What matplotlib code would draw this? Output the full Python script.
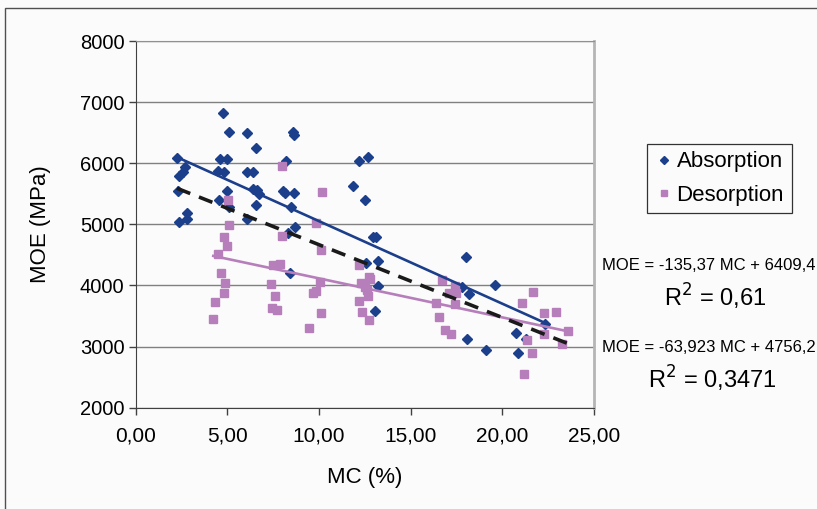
import matplotlib
matplotlib.use("Agg")
import matplotlib.pyplot as plt
from matplotlib.patches import Rectangle
import numpy as np

plt.rcParams["font.family"] = ["Liberation Sans", "DejaVu Sans"]

# Absorption points (MC %, MOE MPa)
abs_mc = [4.77, 5.08, 6.09, 6.57, 2.25, 4.60, 5.00, 8.20, 2.71, 2.60,
          2.39, 4.51, 4.82, 6.09, 6.39, 2.32, 5.00, 6.39, 6.64, 6.75,
          8.02, 8.16, 8.64, 8.57, 8.64, 12.16, 12.65, 11.87, 12.51, 4.57,
          5.11, 6.57, 6.06, 2.79, 2.39, 2.82, 8.49, 8.69, 8.33, 12.93,
          13.14, 8.42, 12.56, 13.20, 13.20, 13.04, 18.01, 17.79, 18.19, 19.61,
          18.08, 19.10, 20.77, 20.84, 21.28, 22.32]
abs_moe = [6830, 6515, 6495, 6250, 6085, 6070, 6070, 6035, 5940, 5865,
           5795, 5870, 5860, 5865, 5865, 5550, 5550, 5580, 5565, 5500,
           5550, 5510, 5520, 6520, 6465, 6045, 6110, 5635, 5400, 5400,
           5280, 5325, 5085, 5185, 5045, 5095, 5280, 4955, 4865, 4790,
           4790, 4200, 4365, 4400, 3990, 3580, 4470, 3980, 3860, 4005,
           3130, 2945, 3215, 2890, 3130, 3365]

# Desorption points
des_mc = [7.97, 5.04, 5.11, 4.82, 4.97, 4.50, 4.64, 4.89, 4.82, 4.35,
          4.24, 7.97, 7.48, 7.87, 7.40, 7.59, 7.44, 7.73, 10.16, 9.84,
          10.09, 10.05, 9.84, 9.66, 10.09, 9.44, 12.16, 12.71, 12.78, 12.31,
          12.52, 12.63, 12.67, 12.20, 12.34, 12.71, 16.41, 16.56, 16.70, 17.40,
          17.50, 17.07, 17.40, 16.85, 17.18, 21.68, 21.06, 22.30, 22.92, 23.57,
          21.35, 22.30, 23.24, 21.61, 21.21]
des_moe = [5960, 5400, 4985, 4800, 4655, 4515, 4210, 4035, 3870, 3730,
           3445, 4810, 4335, 4350, 4020, 3830, 3635, 3600, 5540, 5030,
           4580, 4060, 3915, 3880, 3545, 3300, 4340, 4145, 4100, 4045,
           3970, 3925, 3830, 3750, 3565, 3430, 3710, 3490, 4090, 3990,
           3870, 3880, 3695, 3270, 3205, 3900, 3710, 3545, 3565, 3260,
           3105, 3205, 3040, 2900, 2550]

# trend lines as given on the chart
abs_slope, abs_icpt = -135.37, 6409.4
des_slope, des_icpt = -63.923, 4756.2

x_ticks = [0, 5, 10, 15, 20, 25]
y_ticks = [2000, 3000, 4000, 5000, 6000, 7000, 8000]

blue = "#1c3f8c"
pink = "#b67fbb"

fig = plt.figure(figsize=(8.17, 5.09), dpi=100, facecolor="#fbfbfb")
ax = fig.add_axes([0.1659, 0.1994, 0.727 - 0.1659, 0.9185 - 0.1994])
ax.set_facecolor("#fbfbfb")

ax.plot(abs_mc, abs_moe, "D", color=blue, ms=4.8, ls="none", label="Absorption", zorder=3)
ax.plot(des_mc, des_moe, "s", color=pink, ms=6, ls="none", label="Desorption", zorder=3)

xa = np.array([min(abs_mc), max(abs_mc)])
ax.plot(xa, abs_slope * xa + abs_icpt, color=blue, lw=1.9, zorder=4)
xd = np.array([min(des_mc), max(des_mc)])
ax.plot(xd, des_slope * xd + des_icpt, color=pink, lw=1.9, zorder=4)

# overall fit (dashed)
all_mc = np.array(abs_mc + des_mc)
all_moe = np.array(abs_moe + des_moe)
k, b = np.polyfit(all_mc, all_moe, 1)
xt = np.array([all_mc.min(), all_mc.max()])
ax.plot(xt, k * xt + b, color="#1a1a1a", lw=2.6, ls=(0, (4, 2.6)), zorder=5)

ax.set_xlim(0, 25)
ax.set_ylim(2000, 8000)
ax.set_xticks(x_ticks)
ax.set_xticklabels([f"{v:.2f}".replace(".", ",") for v in x_ticks], fontsize=15)
ax.set_yticks(y_ticks)
ax.set_yticklabels([str(v) for v in y_ticks], fontsize=14.5)
ax.tick_params(axis="both", length=5, width=1, color="#404040", direction="out")
ax.tick_params(axis="x", pad=9)
ax.tick_params(axis="y", pad=3)
ax.yaxis.grid(True, color="#808080", lw=1)
ax.set_axisbelow(True)

ax.spines["left"].set_color("#404040")
ax.spines["bottom"].set_color("#404040")
ax.spines["right"].set_color("#b5b5b5")
ax.spines["right"].set_linewidth(2)
ax.spines["top"].set_color("#909090")

ax.set_xlabel("MC (%)", fontsize=16)
ax.set_ylabel("MOE (MPa)", fontsize=16)
ax.xaxis.set_label_coords(0.5, -0.162)
ax.yaxis.set_label_coords(-0.185, 0.5)

leg = fig.legend(loc="upper left", bbox_to_anchor=(646.5 / 817, 1 - 143.5 / 509),
                 borderaxespad=0, fontsize=16, frameon=True, fancybox=False,
                 edgecolor="black", handletextpad=0.1, borderpad=0.35,
                 labelspacing=0.55, handlelength=0.9, markerscale=0.8)
leg.get_frame().set_linewidth(0.9)
leg.get_frame().set_facecolor("#fbfbfb")

fig.text(602 / 817, 1 - 265 / 509, "MOE = -135,37 MC + 6409,4", fontsize=12, va="center", ha="left")
fig.text(715 / 817, 1 - 297 / 509, "R$^2$ = 0,61", fontsize=17, va="center", ha="center")
fig.text(602 / 817, 1 - 347 / 509, "MOE = -63,923 MC + 4756,2", fontsize=12, va="center", ha="left")
fig.text(712 / 817, 1 - 379 / 509, "R$^2$ = 0,3471", fontsize=17, va="center", ha="center")

# outer frame
fig.patches.append(Rectangle((5 / 817, -0.05), 1.2, 1 - 8 / 509 + 0.05, transform=fig.transFigure,
                             fill=False, edgecolor="#505050", lw=1))

fig.savefig("out.png", dpi=100, facecolor=fig.get_facecolor())
